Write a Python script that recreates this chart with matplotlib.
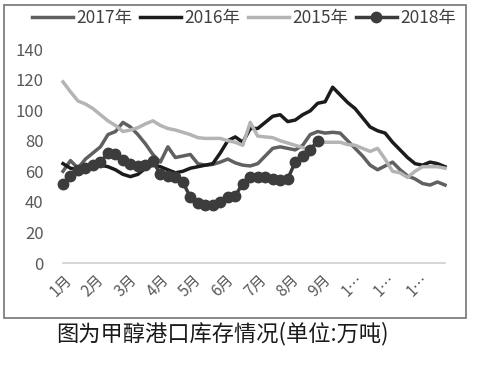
import matplotlib
matplotlib.use("Agg")
import matplotlib.pyplot as plt
from matplotlib.patches import Rectangle

plt.rcParams['font.family'] = ['Noto Sans CJK SC', 'DejaVu Sans']

series_names = ["2017年", "2016年", "2015年", "2018年"]

v2015 = [118.5, 112, 106, 104, 101, 97, 93, 90, 86, 87, 88.5, 91, 93, 90, 88, 87,
         85.5, 84, 82, 81.5, 81.5, 81.5, 80, 79, 77, 92, 83, 82.5, 82, 80, 78.5, 77,
         75.5, 74, 79, 79, 79, 79, 77.5, 77, 75, 73, 75, 68, 60, 59, 56, 60, 63, 63,
         63, 62]
v2016 = [65, 62, 61, 62, 63, 64, 63, 61, 58, 56.5, 58, 62, 64, 63, 61, 59,
         60, 62, 63, 64, 65, 72, 80, 82.5, 79, 88, 88, 92, 96, 97, 92.5, 93.5,
         97, 99.5, 104.5, 105.5, 115, 110, 105, 101, 95, 89, 86.5, 85, 79, 74, 69, 65,
         64, 66, 65, 63]
v2017 = [60, 67, 62, 68, 72, 76, 84, 86, 92, 89, 84, 78, 71, 66, 76, 69,
         70, 71, 65, 64, 64.5, 66, 68, 65.5, 64, 63.5, 65, 70, 75, 76, 75, 74,
         77, 84, 86, 85, 85.5, 85, 80, 75, 70, 64, 61, 63.5, 66, 61, 57, 55,
         52, 51, 53, 51]
v2018 = [52, 57, 61, 62, 64, 66, 72, 71, 67.5, 64.5, 63.5, 64, 67, 58, 57, 56,
         53, 43, 39, 38, 38, 40, 43, 44, 52, 56, 56.5, 56, 55, 54, 55, 66,
         70, 74, 80]

month_labels = ["1月", "2月", "3月", "4月", "5月", "6月", "7月", "8月", "9月",
                "1…", "1…", "1…"]
y_ticks = [0, 20, 40, 60, 80, 100, 120, 140]

W, H = 500, 368
fig = plt.figure(figsize=(W / 100, H / 100), dpi=100)
fig.patch.set_facecolor('white')

# outer chart border
fig.add_artist(Rectangle((4 / W, 1 - 318 / H), (466 - 4) / W, (318 - 5) / H,
                         transform=fig.transFigure, fill=False,
                         edgecolor='#7f7f7f', linewidth=1.3))

ax = fig.add_axes([63 / W, 1 - 263 / H, (445 - 63) / W, (263 - 49) / H])

weeks15 = list(range(len(v2015)))
weeks16 = list(range(len(v2016)))
weeks17 = list(range(len(v2017)))
weeks18 = list(range(len(v2018)))

lw = 2.5
l17, = ax.plot(weeks17, v2017, color='#606060', lw=lw, clip_on=False)
l16, = ax.plot(weeks16, v2016, color='#1c1c1c', lw=lw, clip_on=False)
l15, = ax.plot(weeks15, v2015, color='#b4b4b4', lw=lw, clip_on=False)
l18, = ax.plot(weeks18, v2018, color='#3c3c3c', lw=lw, marker='o',
               markersize=7.5, markerfacecolor='#3c3c3c', markeredgecolor='#3c3c3c',
               clip_on=False)

ax.set_xlim(0, 51)
ax.set_ylim(0, 140)
ax.set_yticks(y_ticks)
ax.tick_params(axis='y', length=0, pad=14, labelsize=12, labelcolor='#595959')

tick_pos = [i * 52 / 12 for i in range(12)]
ax.set_xticks(tick_pos)
ax.set_xticklabels(month_labels, rotation=45, ha='right', va='top',
                   rotation_mode='anchor', fontsize=11, color='#595959')
ax.tick_params(axis='x', length=0, pad=6)

for s in ['top', 'right', 'left']:
    ax.spines[s].set_visible(False)
ax.spines['bottom'].set_color('#d0d0d0')
ax.spines['bottom'].set_linewidth(1.2)

fig.legend([l17, l16, l15, l18], series_names, loc='center',
           bbox_to_anchor=(0.488, 1 - 18 / H), ncol=4, frameon=False,
           fontsize=12.5, handlelength=2.4, handletextpad=0.2, columnspacing=0.4,
           labelcolor='#404040')

fig.text(222 / W, 1 - 334 / H, "图为甲醇港口库存情况(单位:万吨)", ha='center',
         va='center', fontsize=16, color='#1a1a1a')

fig.savefig("out.png", dpi=100, facecolor='white')
